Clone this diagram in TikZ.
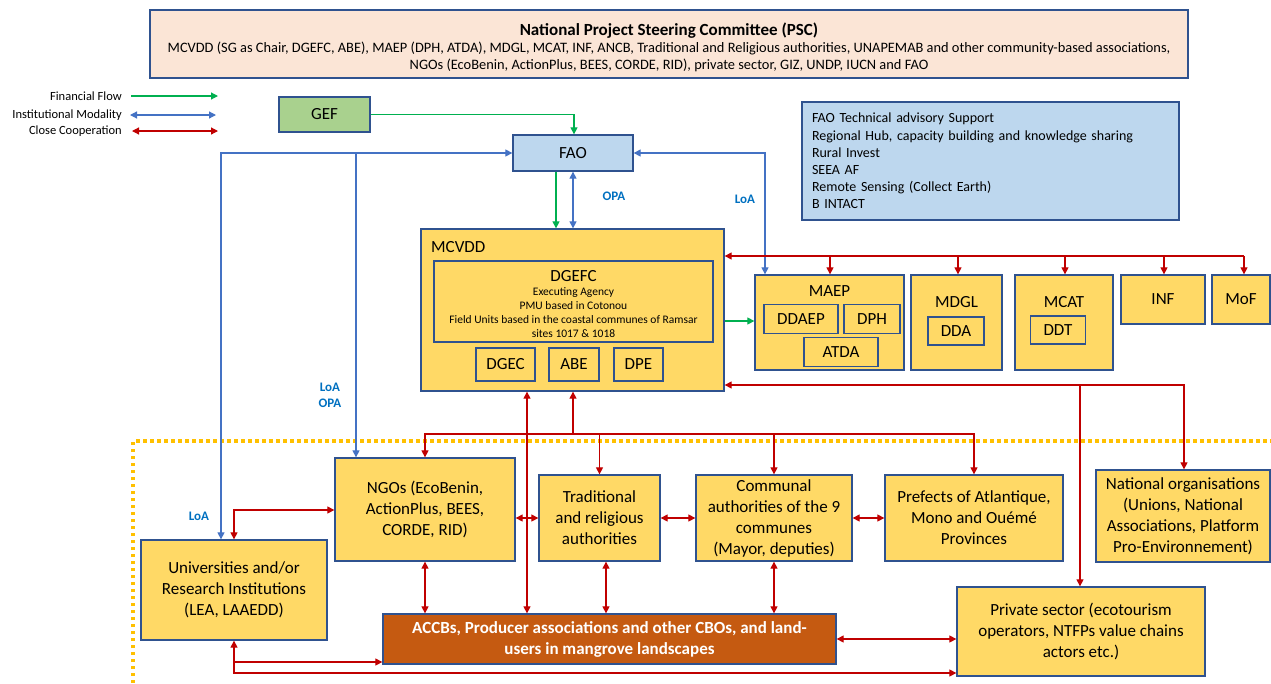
\documentclass[tikz,border=0pt]{standalone}
\usepackage{fontspec}
\setmainfont{Carlito}
\usetikzlibrary{arrows.meta}
\definecolor{gold}{RGB}{255,217,102}
\definecolor{edge}{RGB}{47,82,143}
\definecolor{peach}{RGB}{251,229,214}
\definecolor{gefgreen}{RGB}{169,209,142}
\definecolor{paleblue}{RGB}{189,215,238}
\definecolor{rust}{RGB}{197,90,17}
\definecolor{fingreen}{RGB}{0,176,80}
\definecolor{instblue}{RGB}{68,114,196}
\definecolor{coopred}{RGB}{192,0,0}
\definecolor{lblblue}{RGB}{0,112,192}
\definecolor{dotorange}{RGB}{255,192,0}
\tikzset{
	box/.style={draw=edge, line width=1.3pt, fill=gold, inner sep=0pt, align=center, font=\fontsize{17}{21}\selectfont},
	sub/.style={box, font=\fontsize{17}{20}\selectfont},
	psc/.style={box, fill=peach, font=\fontsize{14.4}{17}\selectfont},
	infobox/.style={box, fill=paleblue, align=left, text width=357pt, font=\fontsize{14}{17.2}\selectfont},
	tag/.style={inner sep=0pt, font=\fontsize{17}{20}\selectfont},
	legtxt/.style={inner sep=0pt, anchor=east, font=\fontsize{12.5}{14}\selectfont},
	lbl/.style={inner sep=0pt, text=lblblue, font=\fontsize{13}{16}\selectfont\bfseries, align=center},
	fin/.style={draw=fingreen, line width=1.2pt},
	inst/.style={draw=instblue, line width=1.2pt},
	coop/.style={draw=coopred, line width=1.2pt},
	dotline/.style={draw=dotorange, line width=3.5pt, dash pattern=on 3.5pt off 3.5pt},
	>={Triangle[length=7pt,width=7pt]}
}
\begin{document}
\begin{tikzpicture}[x=1pt,y=-1pt]
	\useasboundingbox (0,0) rectangle (1271,683);
	
	\draw[dotline] (133,683) -- (133,441) -- (1271,441);
	
	\node[psc, minimum width=1038pt, minimum height=68pt] (psc) at (669,44) {};
	\node[inner sep=0pt, align=center, font=\fontsize{14.4}{17}\selectfont] (psctext) at (669,47.5) {{\fontsize{17}{18}\selectfont\bfseries National Project Steering Committee (PSC)}\\MCVDD (SG as Chair, DGEFC, ABE), MAEP (DPH, ATDA), MDGL, MCAT, INF, ANCB, Traditional and Religious authorities, UNAPEMAB and other community-based associations,\\NGOs (EcoBenin, ActionPlus, BEES, CORDE, RID), private sector, GIZ, UNDP, IUCN and FAO};
	
	\node[legtxt] (lfin) at (122,96) {Financial Flow};
	\node[legtxt] (linst) at (122,115) {Institutional Modality};
	\node[legtxt] (lcoop) at (122,131) {Close Cooperation};
	\coordinate (lfinend) at (218,96);
	\coordinate (linstend) at (216,115);
	\coordinate (lcoopend) at (218,131);
	\draw[fin,->] ([xshift=9pt]lfin.east) -- (lfinend);
	\draw[inst,<->] ([xshift=8pt]linst.east) -- (linstend);
	\draw[coop,<->] ([xshift=10pt]lcoop.east) -- (lcoopend);
	
	\node[box, fill=gefgreen, minimum width=91pt, minimum height=35pt] (gef) at (324.5,114.5) {GEF};
	\node[box, fill=paleblue, minimum width=120pt, minimum height=36pt] (fao) at (573,153) {FAO};
	\node[infobox, minimum height=118pt, inner xsep=10pt] (info) at (990.5,161) {FAO Technical advisory Support\\Regional Hub, capacity building and knowledge sharing\\Rural Invest\\SEEA AF\\Remote Sensing (Collect Earth)\\B INTACT};
	
	\node[box, minimum width=303pt, minimum height=162pt] (mcvdd) at (572.5,310) {};
	\node[tag, anchor=west] (mcvddtag) at (431,247) {MCVDD};
	\node[box, minimum width=279pt, minimum height=81pt] (dgefc) at (573.5,301.5) {};
	\node[inner sep=0pt, align=center, font=\fontsize{11.5}{14}\selectfont] (dgefctext) at (573.5,304) {{\fontsize{17}{18}\selectfont DGEFC}\\Executing Agency\\PMU based in Cotonou\\Field Units based in the coastal communes of Ramsar\\sites 1017 \& 1018};
	\node[sub, minimum width=59pt, minimum height=33pt] (dgec) at (505.5,364.5) {DGEC};
	\node[sub, minimum width=50pt, minimum height=33pt] (abe) at (574,364.5) {ABE};
	\node[sub, minimum width=49pt, minimum height=33pt] (dpe) at (638.5,364.5) {DPE};
	
	\node[box, minimum width=149pt, minimum height=95pt] (maep) at (829.5,322.5) {};
	\node[tag] (maeptag) at (829.5,291) {MAEP};
	\node[sub, minimum width=74pt, minimum height=29pt] (ddaep) at (801,319) {DDAEP};
	\node[sub, minimum width=56pt, minimum height=29pt] (dph) at (872,319) {DPH};
	\node[sub, minimum width=74pt, minimum height=29pt] (atda) at (841,352) {ATDA};
	\node[box, minimum width=91pt, minimum height=95pt] (mdgl) at (956.5,322.5) {};
	\node[tag] (mdgltag) at (956.5,302) {MDGL};
	\node[sub, minimum width=56pt, minimum height=28pt] (dda) at (956,331) {DDA};
	\node[box, minimum width=98pt, minimum height=95pt] (mcat) at (1064,322.5) {};
	\node[tag] (mcattag) at (1064,302) {MCAT};
	\node[sub, minimum width=55pt, minimum height=28pt] (ddt) at (1058,330) {DDT};
	\node[box, minimum width=84pt, minimum height=49pt] (inf) at (1163,299.5) {INF};
	\node[box, minimum width=58pt, minimum height=49pt] (mof) at (1241,299.5) {MoF};
	
	\node[box, minimum width=180pt, minimum height=103pt] (ngo) at (425,509.5) {NGOs (EcoBenin,\\ActionPlus, BEES,\\CORDE, RID)};
	\node[box, minimum width=121pt, minimum height=86pt] (trad) at (599.5,518) {Traditional\\and religious\\authorities};
	\node[box, minimum width=156pt, minimum height=86pt] (comm) at (774,518) {Communal\\authorities of the 9\\communes\\(Mayor, deputies)};
	\node[box, minimum width=178pt, minimum height=86pt] (pref) at (974,518) {Prefects of Atlantique,\\Mono and Ouémé\\Provinces};
	\node[box, minimum width=174pt, minimum height=92pt] (nat) at (1183,516) {National organisations\\(Unions, National\\Associations, Platform\\Pro-Environnement)};
	\node[box, minimum width=186pt, minimum height=100pt] (uni) at (234,590) {Universities and/or\\Research Institutions\\(LEA, LAAEDD)};
	\node[box, fill=rust, text=white, minimum width=453pt, minimum height=50pt, font=\fontsize{17}{21}\selectfont\bfseries] (accb) at (609.5,639) {ACCBs, Producer associations and other CBOs, and land-\\users in mangrove landscapes};
	\node[box, minimum width=248pt, minimum height=89pt] (priv) at (1081,631.5) {Private sector (ecotourism\\operators, NTFPs value chains\\actors etc.)};
	
	\node[lbl] (opa) at (614,196) {OPA};
	\node[lbl] (loa) at (745,199) {LoA};
	\node[lbl] (loaopa) at (330,395) {LoA\\OPA};
	\node[lbl] (loauni) at (199,516) {LoA};
	
	\coordinate (gefturn) at (574,114.5);
	\draw[fin,->] (gef.east) -- (gefturn) -- (gefturn |- fao.north);
	\coordinate (xfin) at (556,0);
	\draw[fin,->] (fao.south -| xfin) -- (mcvdd.north -| xfin);
	\draw[inst,<->] (fao.south) -- (fao.south |- mcvdd.north);
	\coordinate (ymaep) at (0,321);
	\draw[fin,->] (mcvdd.east |- ymaep) -- (maep.west |- ymaep);
	
	\coordinate (loaturn) at (765,153);
	\draw[inst,<->] (fao.east) -- (loaturn) -- (loaturn |- maep.north);
	\coordinate (uniturn) at (221,153);
	\coordinate (ngoturn) at (356,153);
	\draw[inst,<->] (uni.north -| uniturn) -- (uniturn) -- (fao.west);
	\draw[inst,->] (ngoturn) -- (ngoturn |- ngo.north);
	
	\coordinate (topbus) at (1244,256);
	\draw[coop,->] (topbus) -- (mcvdd.east |- topbus);
	\foreach \n/\x in {maep/830,mdgl/958,mcat/1065,inf/1164,mof/1244}{
		\coordinate (drop\n) at (\x,256);
		\draw[coop,->] (drop\n) -- (drop\n |- \n.north);
	}
	
	\coordinate (natturn) at (1184,385);
	\coordinate (privturn) at (1080,385);
	\draw[coop,<->] (mcvdd.east |- natturn) -- (natturn) -- (natturn |- nat.north);
	\draw[coop,->] (privturn) -- (privturn |- priv.north);
	
	\coordinate (xaccb) at (527,0);
	\draw[coop,<->] (mcvdd.south -| xaccb) -- (accb.north -| xaccb);
	\coordinate (lowbus) at (573,434);
	\draw[coop,->] (lowbus) -- (lowbus |- mcvdd.south);
	\draw[coop,<->] (ngo.north) -- (ngo.north |- lowbus) -- (pref.north |- lowbus) -- (pref.north);
	\draw[coop,->] (trad.north |- lowbus) -- (trad.north);
	\draw[coop,->] (comm.north |- lowbus) -- (comm.north);
	
	\coordinate (ymid) at (0,518);
	\draw[coop,<->] (ngo.east |- ymid) -- (trad.west);
	\draw[coop,<->] (trad.east) -- (comm.west);
	\draw[coop,<->] (comm.east) -- (pref.west);
	
	\coordinate (xtrad) at (606,0);
	\draw[coop,<->] (ngo.south) -- (ngo.south |- accb.north);
	\draw[coop,<->] (trad.south -| xtrad) -- (accb.north -| xtrad);
	\draw[coop,<->] (comm.south) -- (comm.south |- accb.north);
	\draw[coop,<->] (accb.east) -- (accb.east -| priv.west);
	
	\coordinate (yungo) at (0,510);
	\draw[coop,<->] (uni.north) -- (uni.north |- yungo) -- (ngo.west |- yungo);
	\coordinate (yaccb) at (0,662);
	\coordinate (ypriv) at (0,673);
	\draw[coop,<->] (uni.south) -- (uni.south |- ypriv) -- (priv.west |- ypriv);
	\draw[coop,->] (uni.south |- yaccb) -- (accb.west |- yaccb);
\end{tikzpicture}
\end{document}
